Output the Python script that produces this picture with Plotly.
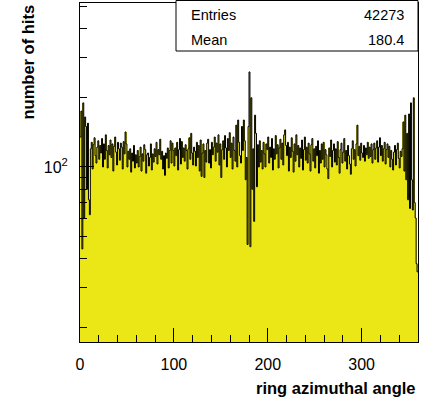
import plotly.graph_objects as go

# ---- data (counts per 1-degree bin) ----
bin_edges_start = 0
bin_width = 1
counts_a = [135, 175, 44, 190, 60, 165, 150, 80, 155, 72, 62, 120]
counts_b = [128, 98, 125, 134, 112, 104, 122, 130, 108, 124,
            115, 133, 100, 126, 108, 138, 118, 99, 124, 113,
            131, 110, 126, 96, 123, 135, 116, 102, 128, 120,
            107, 127, 122, 98, 129, 114, 142, 126, 100, 117,
            108, 120, 95, 115, 106, 124, 99, 113, 104, 118,
            100, 111, 122, 96, 114, 106, 125, 119, 94, 113,
            115, 101, 110, 126, 97, 114, 105, 120, 111, 128,
            103, 119, 113, 132, 108, 117, 98, 112, 92, 115,
            109, 121, 99, 118, 130, 104, 127, 118, 101, 121]
counts_c = [112, 128, 97, 119, 133, 103, 129, 110, 121, 106,
            125, 118, 98, 120, 134, 108, 140, 115, 102, 122,
            117, 101, 128, 110, 124, 96, 131, 91, 115, 126,
            90, 118, 105, 127, 132, 104, 119, 99, 128, 113,
            122, 135, 106, 127, 116, 138, 102, 126, 90, 119,
            130, 108, 137, 121, 100, 133, 118, 141, 110, 127,
            98, 135, 118, 106, 152, 100, 160, 128, 112, 104]
counts_spike = [150, 118, 160, 130, 88, 110, 46, 150, 259, 45,
                200, 80, 120, 58, 168, 140, 82, 125, 100, 130]
counts_d = [105, 118, 98, 128, 114, 100, 126, 119, 135, 104,
            122, 110, 133, 97, 120, 108, 137, 114, 125, 99,
            121, 132, 108, 127, 102, 138, 145, 124, 112, 128,
            96, 122, 110, 134, 117, 95, 126, 106, 138, 113,
            124, 100, 121, 109, 131, 97, 119, 135, 107, 122,
            104, 127, 114, 96, 125, 133, 106, 120, 99, 123,
            112, 130, 94, 118, 104, 126, 108, 128, 100, 119,
            113, 98, 89, 121, 111, 131, 100, 118, 126, 105,
            120, 102, 129, 110, 94, 119, 127, 104, 116, 133,
            106, 118, 98, 124, 112, 103, 93, 120, 130, 108]
counts_e = [119, 101, 126, 152, 112, 123, 107, 127, 115, 110,
            124, 106, 121, 113, 128, 109, 122, 111, 126, 104,
            119, 127, 108, 121, 130, 105, 122, 134, 112, 124,
            106, 120, 128, 103, 119, 126, 110, 123, 100, 118,
            108, 97, 116, 124, 102, 119, 127, 109, 99, 117,
            111, 120, 157, 96, 168, 88, 140, 72, 170, 66,
            190, 88, 65, 200, 70, 60, 38, 35]
counts = counts_a + counts_b + counts_c + counts_spike + counts_d + counts_e
assert len(counts) == 360, len(counts)

x_ticks = [0, 100, 200, 300]
x_tick_text = ["0", "100", "200", "300"]
y_major = [100]
y_major_text = ["10<sup>2</sup>"]
y_minor = [20, 30, 40, 50, 60, 70, 80, 90, 200, 300, 400, 500]
stats_labels = ["Entries", "Mean"]
stats_values = ["42273", "180.4"]

centers = [bin_edges_start + (i + 0.5) * bin_width for i in range(len(counts))]
edges = [bin_edges_start + i * bin_width for i in range(len(counts) + 1)]
step_y = counts + [counts[-1]]

FONT = "Liberation Sans, Arial, Helvetica, sans-serif"
YELLOW = "rgb(235,231,22)"

fig = go.Figure()
fig.add_trace(go.Bar(x=centers, y=counts, width=bin_width,
                     marker=dict(color=YELLOW, line=dict(width=0)),
                     hoverinfo="skip", showlegend=False))
fig.add_trace(go.Scatter(x=edges, y=step_y, mode="lines",
                         line=dict(color="black", width=1, shape="hv"),
                         hoverinfo="skip", showlegend=False))

W, H = 421, 403
L, R, T, B = 80, 3, 3, 61
pw, ph = W - L - R, H - T - B

fig.update_layout(
    width=W, height=H,
    margin=dict(l=L, r=R, t=T, b=B),
    paper_bgcolor="white", plot_bgcolor="white",
    bargap=0, barmode="overlay",
    font=dict(family=FONT, color="black"),
    showlegend=False,
)
fig.update_xaxes(
    range=[0, 360], showgrid=False, zeroline=False,
    showline=True, linecolor="black", linewidth=1, mirror=True,
    tickmode="array", tickvals=x_ticks, ticktext=x_tick_text,
    ticks="inside", ticklen=14, tickwidth=1, tickcolor="black",
    minor=dict(tickmode="linear", tick0=0, dtick=20, ticks="inside",
               ticklen=7, tickwidth=1, tickcolor="black", showgrid=False),
    tickfont=dict(size=16, family=FONT), ticklabelstandoff=8,
)
fig.update_yaxes(
    type="log", range=[1.239, 2.713], showgrid=False, zeroline=False,
    showline=True, linecolor="black", linewidth=1, mirror=True,
    tickmode="array", tickvals=y_major, ticktext=y_major_text,
    ticks="inside", ticklen=14, tickwidth=1, tickcolor="black",
    minor=dict(tickmode="array", tickvals=y_minor, ticks="inside",
               ticklen=7, tickwidth=1, tickcolor="black", showgrid=False),
    tickfont=dict(size=16, family=FONT), ticklabelstandoff=8,
)

# axis titles (ROOT style: right / top aligned)
fig.add_annotation(text="<b>ring azimuthal angle</b>", xref="paper", yref="paper",
                   x=1, y=-(388 - (T + ph)) / ph, xanchor="right", yanchor="middle",
                   showarrow=False, font=dict(size=16.5, family=FONT))
fig.add_annotation(text="<b>number of hits</b>", xref="paper", yref="paper",
                   x=-(L - 27) / pw, y=1, xanchor="center", yanchor="top",
                   textangle=-90, showarrow=False, font=dict(size=16.5, family=FONT))

# stats box
def px2x(px):
    return (px - L) / pw

def py2y(py):
    return (T + ph - py) / ph

fig.add_shape(type="rect", xref="paper", yref="paper",
              x0=px2x(176), x1=px2x(418), y0=py2y(51), y1=py2y(0.5),
              line=dict(color="black", width=1), fillcolor="white", layer="above")
for i, (lab, val) in enumerate(zip(stats_labels, stats_values)):
    yy = py2y(15 + 25 * i)
    fig.add_annotation(text=lab, xref="paper", yref="paper", x=px2x(189), y=yy,
                       xanchor="left", yanchor="middle", showarrow=False,
                       font=dict(size=14.5, family=FONT))
    fig.add_annotation(text=val, xref="paper", yref="paper", x=px2x(406), y=yy,
                       xanchor="right", yanchor="middle", showarrow=False,
                       font=dict(size=14.5, family=FONT))

fig.write_html("out.html", config={"displayModeBar": False},
               post_script="document.body.style.margin='0';")
